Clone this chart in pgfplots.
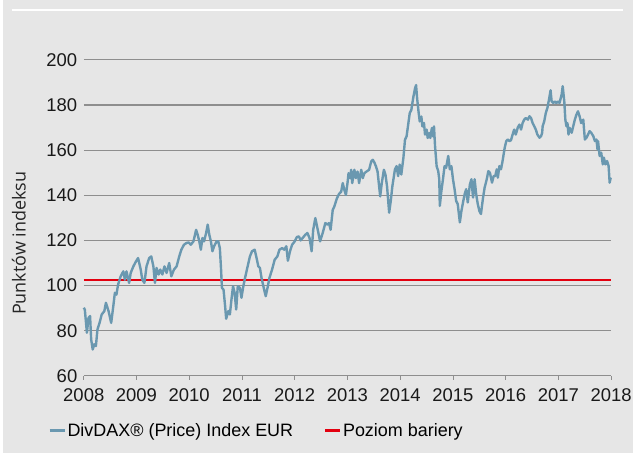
\documentclass[border=0pt]{standalone}
\usepackage{fontspec}
\setmainfont{Liberation Sans}
\newfontfamily\ylabfont{Open Sans}
\usepackage{pgfplots}
\pgfplotsset{compat=1.18}
\definecolor{bg}{HTML}{E6E6E6}
\definecolor{idx}{HTML}{6A98B0}
\definecolor{barcol}{HTML}{E3000F}
\definecolor{gridc}{HTML}{8E8E8E}
\pgfplotstableread{
x y
2008.00 90.2
2008.02 89.4
2008.06 79.1
2008.09 85.7
2008.12 86.5
2008.14 76.2
2008.17 71.7
2008.20 74.0
2008.23 73.2
2008.26 80.6
2008.30 83.5
2008.34 87.2
2008.39 88.7
2008.42 92.4
2008.47 88.7
2008.52 83.5
2008.56 90.9
2008.59 96.8
2008.62 96.0
2008.65 100.4
2008.70 104.1
2008.75 106.3
2008.78 102.6
2008.81 106.3
2008.86 101.2
2008.89 105.6
2008.94 108.5
2008.99 110.7
2009.03 112.2
2009.08 107.1
2009.11 102.6
2009.15 101.2
2009.19 108.5
2009.24 112.2
2009.28 112.9
2009.32 108.5
2009.35 101.2
2009.38 107.8
2009.42 104.9
2009.45 107.1
2009.49 104.9
2009.53 108.5
2009.57 105.6
2009.62 110.0
2009.66 104.1
2009.71 107.1
2009.76 108.5
2009.81 112.9
2009.85 115.9
2009.90 118.1
2009.95 118.9
2009.99 119.1
2010.03 118.1
2010.08 119.6
2010.13 124.7
2010.16 122.5
2010.19 119.6
2010.22 115.9
2010.25 121.1
2010.28 119.6
2010.32 123.3
2010.35 127.0
2010.38 122.5
2010.41 119.6
2010.44 115.2
2010.47 117.4
2010.52 119.6
2010.55 119.6
2010.58 116.6
2010.60 108.5
2010.62 99.0
2010.65 98.2
2010.68 90.9
2010.70 85.3
2010.74 88.7
2010.77 87.2
2010.80 93.8
2010.83 99.7
2010.86 96.8
2010.89 89.4
2010.92 99.7
2010.96 99.0
2010.99 94.6
2011.02 99.0
2011.05 102.6
2011.10 107.8
2011.15 112.9
2011.19 115.2
2011.24 115.9
2011.27 112.9
2011.31 108.5
2011.34 107.8
2011.37 103.4
2011.42 98.2
2011.45 95.3
2011.49 99.7
2011.52 103.4
2011.57 107.1
2011.62 111.5
2011.67 112.9
2011.71 115.9
2011.76 116.6
2011.80 115.9
2011.84 117.4
2011.87 111.0
2011.91 115.2
2011.95 118.1
2012.00 119.6
2012.04 121.5
2012.08 121.8
2012.11 120.0
2012.15 121.1
2012.20 122.5
2012.24 123.3
2012.28 121.1
2012.32 115.2
2012.35 124.7
2012.39 129.9
2012.43 125.4
2012.48 119.6
2012.53 123.3
2012.58 127.7
2012.62 127.0
2012.65 127.7
2012.68 124.7
2012.72 133.5
2012.75 135.0
2012.80 138.7
2012.84 140.6
2012.88 141.6
2012.91 145.4
2012.94 142.4
2012.97 140.2
2013.00 145.4
2013.02 149.8
2013.05 147.6
2013.07 151.3
2013.09 145.4
2013.13 151.3
2013.16 147.6
2013.19 150.5
2013.22 145.4
2013.26 151.3
2013.29 147.6
2013.32 149.8
2013.36 150.5
2013.41 151.3
2013.45 155.0
2013.48 155.7
2013.51 154.5
2013.54 152.8
2013.57 150.5
2013.60 143.9
2013.62 139.5
2013.65 145.4
2013.69 151.3
2013.72 149.1
2013.75 143.9
2013.79 132.3
2013.82 137.4
2013.85 143.9
2013.90 151.5
2013.93 152.9
2013.96 148.5
2013.99 153.6
2014.02 149.2
2014.06 156.6
2014.09 164.6
2014.12 166.1
2014.15 171.2
2014.18 176.4
2014.21 177.8
2014.25 183.7
2014.28 187.3
2014.30 188.8
2014.32 182.9
2014.35 176.4
2014.37 172.7
2014.40 174.9
2014.42 170.5
2014.45 172.0
2014.47 166.9
2014.50 169.1
2014.52 165.4
2014.55 167.6
2014.57 165.4
2014.60 169.8
2014.62 166.1
2014.64 170.5
2014.66 161.7
2014.69 152.9
2014.72 150.7
2014.74 147.1
2014.75 135.3
2014.78 141.9
2014.81 147.1
2014.84 152.9
2014.87 152.2
2014.91 157.4
2014.94 151.5
2014.97 152.9
2015.00 147.1
2015.03 142.7
2015.06 137.5
2015.09 136.1
2015.13 128.0
2015.16 133.1
2015.19 136.8
2015.22 140.4
2015.25 142.7
2015.28 136.8
2015.32 144.8
2015.35 147.1
2015.38 139.0
2015.41 147.1
2015.44 140.4
2015.47 136.1
2015.50 133.1
2015.53 131.7
2015.57 139.0
2015.60 143.4
2015.64 147.1
2015.67 150.7
2015.70 150.0
2015.74 145.6
2015.77 148.5
2015.80 148.5
2015.83 151.5
2015.85 147.8
2015.88 152.9
2015.91 151.5
2015.94 155.2
2015.98 161.0
2016.01 164.0
2016.04 164.7
2016.07 164.0
2016.10 164.4
2016.13 166.9
2016.16 169.1
2016.19 166.9
2016.23 170.1
2016.26 171.3
2016.29 169.1
2016.32 172.0
2016.35 173.5
2016.38 174.2
2016.42 173.5
2016.45 175.0
2016.48 174.2
2016.51 172.0
2016.54 170.6
2016.57 169.1
2016.60 166.9
2016.64 165.5
2016.67 166.2
2016.69 167.6
2016.70 170.6
2016.73 172.8
2016.76 176.5
2016.79 178.7
2016.82 182.4
2016.85 186.5
2016.87 181.6
2016.90 180.9
2016.93 181.6
2016.96 180.9
2016.99 181.6
2017.02 180.9
2017.06 184.6
2017.08 188.3
2017.11 181.6
2017.13 173.5
2017.15 170.6
2017.17 172.0
2017.19 166.9
2017.21 169.9
2017.25 167.7
2017.28 170.6
2017.31 173.5
2017.34 175.7
2017.37 177.2
2017.40 175.0
2017.43 172.0
2017.47 173.5
2017.50 164.7
2017.53 165.5
2017.56 166.9
2017.59 168.4
2017.62 167.7
2017.66 166.2
2017.69 164.0
2017.72 164.7
2017.74 160.3
2017.75 164.0
2017.78 157.4
2017.81 158.9
2017.84 153.7
2017.86 156.7
2017.89 153.7
2017.92 155.2
2017.95 153.0
2017.97 145.6
2017.99 147.8
}\divdax
\pgfplotstableread{
x y
2008 102.5
2018 102.5
}\barrier
\begin{document}
\begin{tikzpicture}[x=1bp,y=1bp]
\fill[bg] (0,0) rectangle (635,454);
\fill[white] (0,0) rectangle (3,454);
\draw[white, line width=2.5bp] (12,444) -- (625,444);
\node[rotate=90, font=\ylabfont\fontsize{18bp}{20bp}\selectfont, text=black!85] at (19,210) {Punktów indeksu};
\begin{axis}[
  at={(84bp,77bp)}, anchor=south west,
  scale only axis, width=529bp, height=317bp,
  xmin=2008, xmax=2018, ymin=60, ymax=200,
  xtick={2008,2009,...,2018}, ytick={60,80,...,200},
  axis line style={draw=none},
  ymajorgrids, grid style={gridc, line width=1.2bp},
  xtick pos=bottom, ytick pos=left,
  tick align=outside, major tick length=4bp,
  xtick style={gridc, line width=0.8bp},
  ytick style={draw=none},
  ticklabel style={font=\fontsize{18.5bp}{20bp}\selectfont, text=black!90},
  /pgf/number format/assume math mode=true,
  xticklabel style={/pgf/number format/1000 sep={}, yshift=-5bp},
  yticklabel style={xshift=1bp},
  clip=false,
  legend style={at={(-0.068,-0.1735)}, anchor=west, draw=none, fill=none,
    inner sep=0pt, legend columns=2,
    font=\fontsize{18bp}{20bp}\selectfont,
    /tikz/every even column/.append style={column sep=29bp},
    nodes={inner sep=1.5bp}},
  legend image code/.code={\draw[#1, line width=3bp] (0bp,0bp) -- (15bp,0bp);},
]
\addplot[barcol, line width=2.6bp, forget plot] table[x=x,y=y] {\barrier};
\addplot[idx, line width=2.4bp, line join=round] table[x=x,y=y] {\divdax};
\addlegendentry{DivDAX® (Price) Index EUR}
\addlegendimage{barcol}
\addlegendentry{Poziom bariery}
\end{axis}
\end{tikzpicture}
\end{document}
